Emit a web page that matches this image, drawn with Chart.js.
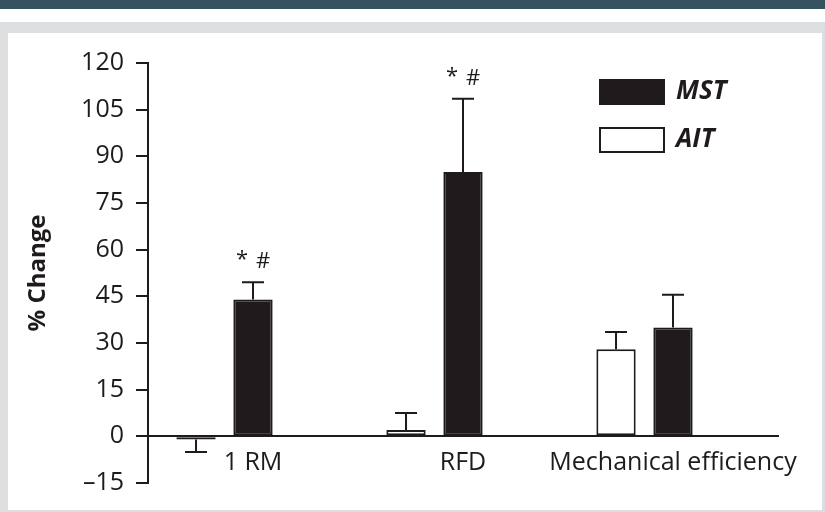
<!DOCTYPE html>
<html>
<head>
<meta charset="utf-8">
<script src="https://cdn.jsdelivr.net/npm/chart.js@4.4.1/dist/chart.umd.min.js"></script>
<style>
    body { margin: 0; width: 825px; height: 512px; overflow: hidden; background: #fff; }
    .topbar { position: absolute; left: 0; top: 0; width: 825px; height: 9px; background: #36515f; }
    .frame { position: absolute; left: 0; top: 22px; width: 825px; height: 490px; background: #dcdedf; }
    .panel { position: absolute; left: 8px; top: 33px; width: 814px; height: 477px; background: #fff; }
    #chartBox { position: absolute; left: 0; top: 0; width: 825px; height: 512px; }
</style>
</head>
<body>
<div class="topbar"></div>
<div class="frame"></div>
<div class="panel"></div>
<div id="chartBox"><canvas id="changeChart"></canvas></div>
<script>
var categories = ['1 RM', 'RFD', 'Mechanical efficiency'];
var aitValues = [-1, 2, 28];
var aitErrors = [4, 5.5, 5.5];
var mstValues = [44, 85, 35];
var mstErrors = [5.5, 23.5, 10.5];
var mstSignificance = ['* #', '* #', ''];
var yTicks = [-15, 0, 15, 30, 45, 60, 75, 90, 105, 120];

var ink = '#1f1b1c';

// Fehlerbalken (nur in Richtung des Wertes)
var errorBarPlugin = {
    id: 'errorBars',
    afterDatasetsDraw: function(chart) {
        var ctx = chart.ctx;
        var yScale = chart.scales.y;
        ctx.save();
        ctx.strokeStyle = ink;
        ctx.lineWidth = 2;
        chart.data.datasets.forEach(function(ds, di) {
            if (!ds.errors) return;
            var meta = chart.getDatasetMeta(di);
            meta.data.forEach(function(bar, i) {
                var v = ds.data[i];
                if (v === null) return;
                var sign = v < 0 ? -1 : 1;
                var yEnd = yScale.getPixelForValue(v + sign * ds.errors[i]);
                ctx.beginPath();
                ctx.moveTo(bar.x, bar.y);
                ctx.lineTo(bar.x, yEnd);
                ctx.moveTo(bar.x - 11, yEnd);
                ctx.lineTo(bar.x + 11, yEnd);
                ctx.stroke();
                if (ds.marks && ds.marks[i]) {
                    var parts = ds.marks[i].split(' ');
                    ctx.fillStyle = ink;
                    ctx.font = '22px "Open Sans"';
                    ctx.textAlign = 'center';
                    ctx.textBaseline = 'alphabetic';
                    ctx.fillText(parts[0], bar.x - 11, yEnd - 16);
                    ctx.fillText(parts[1], bar.x + 10, yEnd - 14);
                }
            });
        });
        ctx.restore();
    }
};

// Legende rechts oben im Diagramm (MST zuerst)
var boxLegendPlugin = {
    id: 'boxLegend',
    afterDraw: function(chart) {
        var ctx = chart.ctx;
        var area = chart.chartArea;
        var items = chart.data.datasets.filter(function(ds) { return ds.label; }).reverse();
        var x = area.left + 452;
        var y = area.top + 17;
        ctx.save();
        items.forEach(function(ds, i) {
            var top = y + i * 48;
            ctx.fillStyle = ds.backgroundColor;
            ctx.strokeStyle = ink;
            ctx.lineWidth = 2;
            ctx.fillRect(x, top, 64, 24);
            ctx.strokeRect(x, top, 64, 24);
            ctx.fillStyle = ink;
            ctx.font = 'italic bold 26px "Open Sans"';
            ctx.textAlign = 'left';
            ctx.textBaseline = 'middle';
            ctx.fillText(ds.label, x + 76, top + 12);
        });
        ctx.restore();
    }
};

var chart = new Chart(document.getElementById('changeChart'), {
    type: 'bar',
    data: {
        labels: categories,
        datasets: [
            {label: 'AIT', data: aitValues, errors: aitErrors, backgroundColor: '#ffffff',
                borderColor: ink, borderWidth: 2, borderSkipped: false},
            {label: 'MST', data: mstValues, errors: mstErrors, marks: mstSignificance, backgroundColor: ink,
                borderColor: ink, borderWidth: 2, borderSkipped: false},
            {label: '', data: [null, null, null]}
        ]
    },
    options: {
        responsive: true,
        maintainAspectRatio: false,
        animation: false,
        categoryPercentage: 0.814,
        barPercentage: 0.69,
        layout: {padding: {left: 0, top: 63, right: 47, bottom: 29}},
        plugins: {legend: {display: false}, tooltip: {enabled: false}},
        scales: {
            x: {
                position: {y: 0},
                grid: {display: false, drawTicks: false},
                border: {display: true, color: ink, width: 2},
                ticks: {color: ink, padding: 12, autoSkip: false, maxRotation: 0, minRotation: 0,
                    font: {family: 'Open Sans', size: 25}}
            },
            y: {
                min: -15,
                max: 120,
                afterFit: function(scale) { scale.width = 148; },
                afterBuildTicks: function(scale) {
                    scale.ticks = yTicks.map(function(v) { return {value: v}; });
                },
                grid: {display: true, drawOnChartArea: false, drawTicks: true, tickLength: 12,
                    color: ink, lineWidth: 2},
                border: {display: true, color: ink, width: 2},
                ticks: {
                    color: ink, padding: 12, font: {family: 'Open Sans', size: 25},
                    callback: function(v) { return String(v).replace('-', '\u2013'); }
                },
                title: {display: true, text: '% Change', color: ink,
                    font: {family: 'Open Sans', size: 24, weight: 'bold'}, padding: {top: 24, bottom: 0}}
            }
        }
    },
    plugins: [errorBarPlugin, boxLegendPlugin]
});
</script>
</body>
</html>
